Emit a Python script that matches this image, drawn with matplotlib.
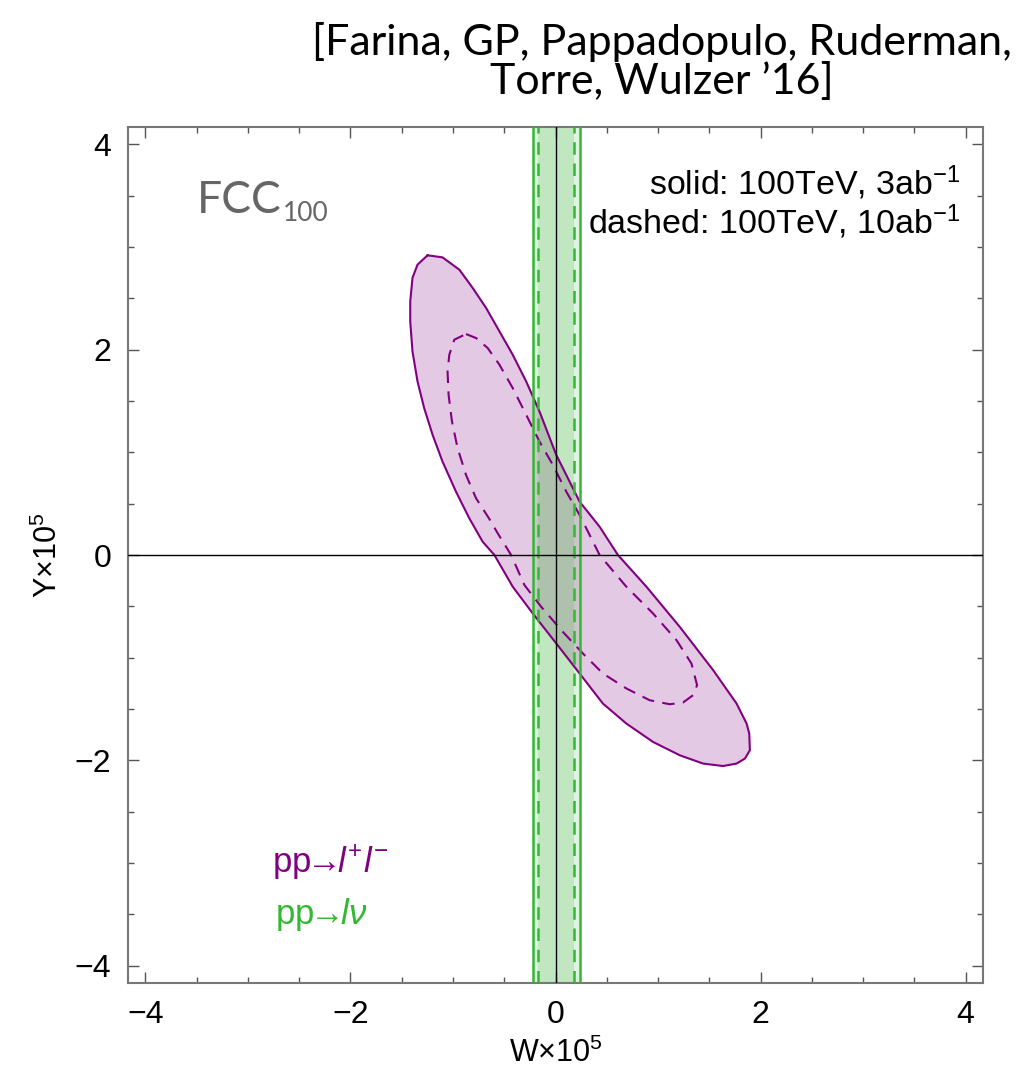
import matplotlib
matplotlib.use("Agg")
import matplotlib.pyplot as plt
from matplotlib.ticker import MultipleLocator

plt.rcParams['font.family'] = ['Liberation Sans', 'DejaVu Sans']
plt.rcParams['mathtext.fontset'] = 'custom'
plt.rcParams['mathtext.rm'] = 'Liberation Sans'
plt.rcParams['mathtext.it'] = 'Liberation Sans:italic'

# contour pp -> l+ l- (solid: 3ab^-1)
outer_w = [-1.248, -1.102, -0.938, -0.808, -0.677, -0.547, -0.417, -0.286, -0.156, 0.007,
           0.235, 0.430, 0.609, 0.887, 1.212, 1.538, 1.766, 1.864, 1.890, 1.896,
           1.848, 1.766, 1.635, 1.440, 1.212, 0.951, 0.691, 0.462, 0.235, 0.007,
           -0.222, -0.417, -0.596, -0.711, -0.841, -0.971, -1.102, -1.199, -1.281, -1.346,
           -1.395, -1.417, -1.417, -1.395, -1.346]
outer_y = [2.920, 2.900, 2.780, 2.602, 2.407, 2.179, 1.951, 1.691, 1.398, 0.976,
           0.520, 0.276, 0.0, -0.309, -0.700, -1.122, -1.447, -1.642, -1.740, -1.902,
           -1.983, -2.032, -2.056, -2.032, -1.951, -1.821, -1.642, -1.447, -1.154, -0.861,
           -0.569, -0.309, 0.0, 0.130, 0.358, 0.618, 0.910, 1.171, 1.431, 1.691,
           1.983, 2.276, 2.471, 2.700, 2.829]

# contour pp -> l+ l- (dashed: 10ab^-1)
inner_w = [-0.873, -0.775, -0.662, -0.547, -0.417, -0.286, -0.156, -0.026, 0.105, 0.235,
           0.349, 0.430, 0.691, 0.951, 1.180, 1.326, 1.381, 1.342, 1.244, 1.114,
           0.919, 0.691, 0.462, 0.267, 0.071, -0.140, -0.303, -0.433, -0.564, -0.645,
           -0.775, -0.873, -0.955, -1.010, -1.043, -1.053, -1.036, -0.987]
inner_y = [2.153, 2.114, 2.017, 1.854, 1.626, 1.366, 1.105, 0.878, 0.618, 0.390,
           0.163, 0.0, -0.309, -0.569, -0.829, -1.057, -1.268, -1.366, -1.437, -1.454,
           -1.415, -1.300, -1.154, -0.959, -0.748, -0.504, -0.293, 0.0, 0.212, 0.351,
           0.553, 0.780, 1.041, 1.300, 1.561, 1.788, 1.951, 2.098]

# band pp -> l nu
band_solid = [-0.222, 0.238]
band_dashed = [-0.166, 0.183]

purple = '#800080'
green = '#33b833'

fig = plt.figure(figsize=(10.29, 10.8), dpi=100)
ax = fig.add_axes([0.1244, 0.0898, 0.8309, 0.7926])

ax.fill(outer_w, outer_y, facecolor=purple, alpha=0.21, edgecolor='none', zorder=1)
ax.plot(outer_w + outer_w[:1], outer_y + outer_y[:1], color=purple, lw=1.5,
        solid_joinstyle='round', zorder=3)
ax.plot(inner_w + inner_w[:1], inner_y + inner_y[:1], color=purple, lw=1.5,
        dashes=(6, 4), dash_joinstyle='round', zorder=3)

ax.axvspan(band_solid[0], band_solid[1], color=(0.2, 0.7, 0.2), alpha=0.15, lw=0, zorder=2)
ax.axvspan(band_dashed[0], band_dashed[1], color=(0.2, 0.7, 0.2), alpha=0.18, lw=0, zorder=2)
for b in band_solid:
    ax.axvline(b, color=green, lw=1.8, zorder=3)
for b in band_dashed:
    ax.axvline(b, color=green, lw=1.8, dashes=(5, 3.5), zorder=3)

ax.axhline(0, color='black', lw=1.0, zorder=4)
ax.axvline(0, color='black', lw=1.0, zorder=4)

ax.set_xlim(-4.17, 4.17)
ax.set_ylim(-4.17, 4.17)
ax.xaxis.set_major_locator(MultipleLocator(2))
ax.yaxis.set_major_locator(MultipleLocator(2))
ax.xaxis.set_minor_locator(MultipleLocator(0.5))
ax.yaxis.set_minor_locator(MultipleLocator(0.5))
ax.tick_params(which='both', direction='in', top=True, right=True,
               labeltop=False, labelright=False, color='#555555', width=1.0)
ax.tick_params(which='major', length=8, labelsize=23, pad=12)
ax.tick_params(which='minor', length=4.5)
for s in ax.spines.values():
    s.set_color('#777777')
    s.set_linewidth(1.5)

ax.set_xlabel(r"W$\times$10$^5$", fontsize=22, labelpad=6)
ax.set_ylabel(r"Y$\times$10$^5$", fontsize=22, labelpad=8)

ax.text(3.95, 3.63, r"solid: 100TeV, 3ab$^{-1}$", ha='right', va='center', fontsize=24.5)
ax.text(3.95, 3.25, r"dashed: 100TeV, 10ab$^{-1}$", ha='right', va='center', fontsize=24.5)

t = ax.text(-3.50, 3.33, "FCC", fontsize=32, color='#666666', family='Lato',
            va='baseline')
ax.annotate("100", xy=(1, 0), xycoords=t, xytext=(1, 0), textcoords='offset points',
            fontsize=19, color='#666666', family='Lato', va='baseline')

ax.text(-2.2, -3.0, r"pp$\!\!\rightarrow\!\!\mathit{l}^{+}\mathit{l}^{-}$", color=purple,
        fontsize=25, ha='center', va='center')
ax.text(-2.28, -3.5, r"pp$\!\!\rightarrow\!\!\mathit{l\nu}$", color=green, fontsize=25,
        ha='center', va='center')

fig.text(0.643, 0.943, "[Farina, GP, Pappadopulo, Ruderman,\nTorre, Wulzer \u201916]",
         ha='center', va='center', fontsize=31, family='Lato', linespacing=1.0)

fig.savefig("out.png", dpi=100)
